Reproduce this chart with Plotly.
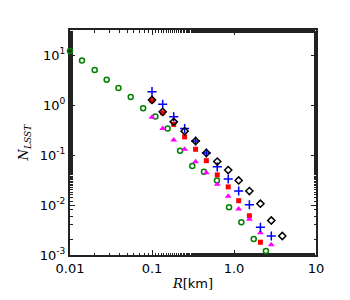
import plotly.graph_objects as go

# Green circles
x_green = [0.01, 0.014, 0.02, 0.028, 0.039, 0.055, 0.078, 0.11, 0.155, 0.22, 0.31, 0.43, 0.62, 0.87, 1.23, 1.74, 2.45]
y_green = [12, 7.8, 5.0, 3.2, 2.2, 1.45, 0.86, 0.59, 0.34, 0.122, 0.06, 0.046, 0.031, 0.009, 0.0045, 0.0021, 0.0012]

x_grid = [0.1, 0.135, 0.184, 0.25, 0.34, 0.46, 0.625, 0.85, 1.14, 1.54, 2.1, 2.85, 3.88]
# Black open diamonds
y_black = [1.26, 0.73, 0.46, 0.30, 0.19, 0.11, 0.074, 0.05, 0.031, 0.019, 0.0106, 0.0049, 0.0024]
# Blue plus
y_blue = [1.85, 1.03, 0.58, 0.34, 0.19, 0.11, 0.058, 0.033, 0.019, 0.0101, 0.0036, 0.0024]
# Red squares
y_red = [1.22, 0.70, 0.41, 0.23, 0.13, 0.077, 0.040, 0.023, 0.0122, 0.0061, 0.0018]
# Magenta triangles
y_mag = [0.57, 0.34, 0.20, 0.13, 0.073, 0.044, 0.026, 0.015, 0.0083, 0.0052, 0.0028, 0.0016]

x_ticks = [0.01, 0.1, 1, 10]
x_ticktext = ["0.01", "0.1", "1.0", "10"]
y_ticks = [0.001, 0.01, 0.1, 1, 10]
y_ticktext = ["10<sup>-3</sup>", "10<sup>-2</sup>", "10<sup>-1</sup>", "10<sup>0</sup>", "10<sup>1</sup>"]

fig = go.Figure()
fig.add_trace(go.Scatter(x=x_green, y=y_green, mode="markers", cliponaxis=False,
    marker=dict(symbol="circle-open", size=5, color="#008000", line=dict(width=1.5, color="#008000"))))
fig.add_trace(go.Scatter(x=x_grid[:len(y_red)], y=y_red, mode="markers", cliponaxis=False,
    marker=dict(symbol="square", size=5, color="#ff0000")))
fig.add_trace(go.Scatter(x=x_grid[:len(y_mag)], y=y_mag, mode="markers", cliponaxis=False,
    marker=dict(symbol="triangle-up", size=6, color="#ff00ff")))
fig.add_trace(go.Scatter(x=x_grid[:len(y_blue)], y=y_blue, mode="markers", cliponaxis=False,
    marker=dict(symbol="cross-thin-open", size=6.5, color="#0000ff", line=dict(width=1.5, color="#0000ff"))))
fig.add_trace(go.Scatter(x=x_grid[:len(y_black)], y=y_black, mode="markers", cliponaxis=False,
    marker=dict(symbol="diamond-open", size=5.5, color="black", line=dict(width=1.5, color="black"))))

axis_common = dict(showgrid=False, zeroline=False, showline=True, linecolor="#222", linewidth=2,
                   mirror="ticks", ticks="inside", ticklen=5, tickwidth=1, tickcolor="#222",
                   automargin=False, layer="below traces",
                   tickfont=dict(family="DejaVu Sans", size=13, color="black"),
                   minor=dict(ticks="inside", ticklen=2.5, tickwidth=1, tickcolor="#222", showgrid=False))

fig.update_xaxes(type="log", range=[-2, 1], tickvals=x_ticks, ticktext=x_ticktext,
                 title=dict(text="<span style='font-family:DejaVu Serif'><i>R</i>[</span>km<span style='font-family:DejaVu Serif'>]</span>",
                            font=dict(family="DejaVu Sans", size=13, color="black"), standoff=4),
                 **axis_common)
fig.update_yaxes(type="log", range=[-3, 1.5], tickvals=y_ticks, ticktext=y_ticktext,
                 title=dict(text="<i>N</i><sub><i>LSST</i></sub>", font=dict(family="DejaVu Serif", size=13, color="black"), standoff=8),
                 **axis_common)

fig.update_layout(width=342, height=292, showlegend=False,
                  margin=dict(l=62, r=34, t=22, b=45),
                  plot_bgcolor="white", paper_bgcolor="white")

fig.write_html("out.html")
